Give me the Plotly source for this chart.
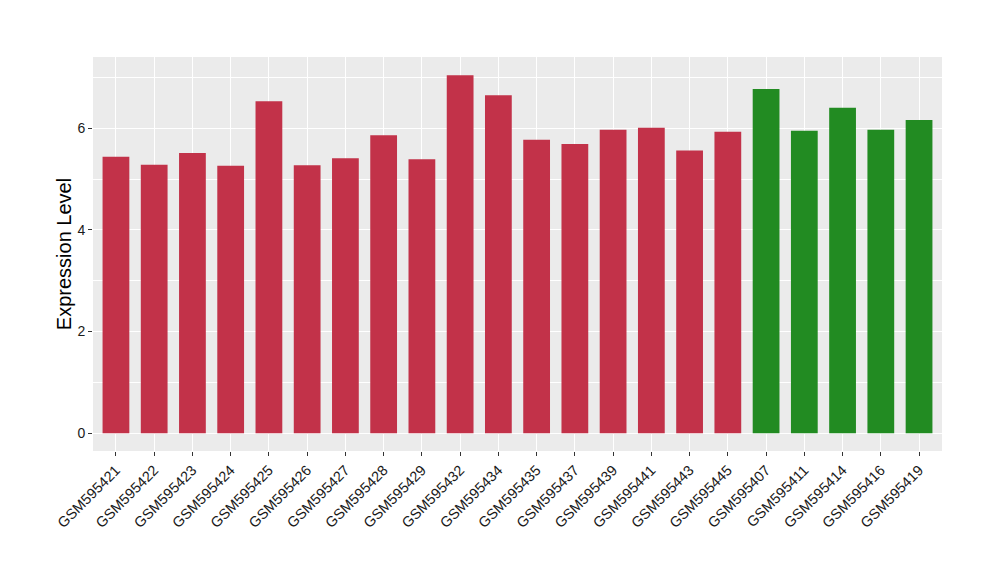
import plotly.graph_objects as go

samples = ["GSM595421", "GSM595422", "GSM595423", "GSM595424", "GSM595425", "GSM595426",
           "GSM595427", "GSM595428", "GSM595429", "GSM595432", "GSM595434", "GSM595435",
           "GSM595437", "GSM595439", "GSM595441", "GSM595443", "GSM595445",
           "GSM595407", "GSM595411", "GSM595414", "GSM595416", "GSM595419"]
values = [5.44, 5.28, 5.51, 5.26, 6.53, 5.27, 5.41, 5.86, 5.39, 7.04, 6.65, 5.77,
          5.69, 5.97, 6.01, 5.56, 5.93, 6.77, 5.95, 6.40, 5.97, 6.16]
groups = ["a"] * 17 + ["b"] * 5
group_colors = {"a": "#C23249", "b": "#228B22"}

fig = go.Figure()
fig.add_trace(go.Bar(
    x=samples, y=values,
    marker=dict(color=[group_colors[g] for g in groups], line=dict(width=0)),
    width=0.7, showlegend=False,
))

fig.update_layout(
    width=1000, height=580,
    paper_bgcolor="white", plot_bgcolor="#EBEBEB",
    margin=dict(l=85, r=66, t=49, b=137),
    font=dict(family="Liberation Sans, Arial, sans-serif", color="#1a1a1a"),
)
fig.update_xaxes(
    type="category", range=[-0.6, 21.6], automargin=False,
    tickangle=-45, tickfont=dict(size=14.5, color="#1a1a1a"),
    showgrid=True, gridcolor="white", gridwidth=1.2,
    ticks="outside", ticklen=4, tickcolor="#333333", tickwidth=1,
    showline=False, zeroline=False,
)
fig.update_yaxes(
    range=[-0.35, 7.4], automargin=False,
    tickvals=[0, 2, 4, 6], ticktext=["0", "2", "4", "6"],
    tickfont=dict(size=14, color="#1a1a1a"),
    title=dict(text="Expression Level", font=dict(size=20, color="#000000"), standoff=0),
    showgrid=True, gridcolor="white", gridwidth=1.2,
    minor=dict(tickvals=[1, 3, 5, 7], showgrid=True, gridcolor="white", gridwidth=0.6),
    ticks="outside", ticklen=4, tickcolor="#333333", tickwidth=1,
    showline=False, zeroline=False,
)

fig.write_html("out.html")
